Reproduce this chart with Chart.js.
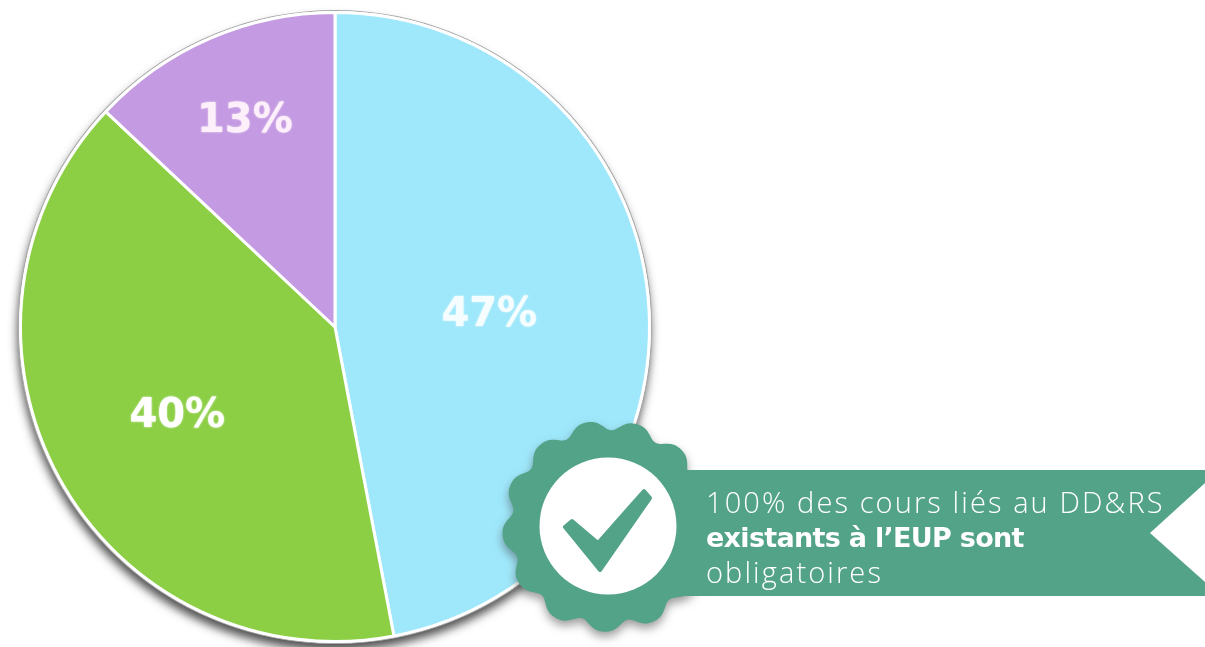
<!DOCTYPE html>
<html lang="fr"><head><meta charset="utf-8">
<style>
html,body{margin:0;padding:0;background:#fff;overflow:hidden}
#wrap{position:relative;width:1205px;height:647px}
canvas{position:absolute;left:0;top:0}
#deco{position:absolute;left:0;top:0}
.t{position:absolute;left:706px;color:#fff;white-space:nowrap;font-size:29px;line-height:35px}
#l1,#l3{font-family:"Open Sans","Noto Sans",sans-serif;font-weight:300;letter-spacing:2.1px}
#l2{font-family:"DejaVu Sans",sans-serif;font-weight:700;font-size:27px;letter-spacing:-0.7px}
</style></head><body>
<div id="wrap">
<canvas id="c" width="1205" height="647"></canvas>
<svg id="deco" width="1205" height="647" viewBox="0 0 1205 647">
 <path id="badge" fill="#53a388" style="filter:drop-shadow(0 5px 5px rgba(60,60,60,.5))"/>
 <polygon fill="#53a388" points="660,470 1205,470 1205,483 1150,533 1205,582 1205,596 660,596"/>
 <circle cx="608" cy="526" r="68.5" fill="#fff"/>
 <polygon points="644,491 650,498 600,570 565,527 572,521 598,543" fill="#53a388" stroke="#53a388" stroke-width="4" stroke-linejoin="round"/>
</svg>
<div class="t" id="l1" style="top:484px"></div>
<div class="t" id="l2" style="top:520px"></div>
<div class="t" id="l3" style="top:554px"></div>
</div>
<script src="https://cdn.jsdelivr.net/npm/chart.js@4"></script>
<script>
const categories = ["Catégorie 1", "Catégorie 2", "Catégorie 3"];
const values = [47, 40, 13];
const sliceColors = ["#9fe8fb", "#8ccf45", "#c49ae2"];
const valueLabels = ["47%", "40%", "13%"];
const labelRadius = [155, 180, 227];
const labelColors = ["#f6fdff", "#ffffff", "#fdf0fb"];
const calloutLines = ["100% des cours liés au DD&RS", "existants à l’EUP sont", "obligatoires"];

document.getElementById("l1").textContent = calloutLines[0];
document.getElementById("l2").textContent = calloutLines[1];
document.getElementById("l3").textContent = calloutLines[2];

// scalloped badge outline (decoration only)
(function(){
  const cx=608, cy=526, lobes=13, R=101.6, a=5, b=0.8, rot=92*Math.PI/180;
  let d="";
  for(let i=0;i<=720;i++){
    const t=i/720*2*Math.PI, x=lobes*(t-rot);
    const r=R+a*Math.cos(x)-b*Math.cos(2*x);
    d+=(i?"L":"M")+(cx+r*Math.cos(t)).toFixed(1)+" "+(cy+r*Math.sin(t)).toFixed(1);
  }
  document.getElementById("badge").setAttribute("d",d+"Z");
})();

const pieBackdrop = {
  id:"pieBackdrop",
  beforeDatasetsDraw(chart){
    const arc=chart.getDatasetMeta(0).data[0], ctx=chart.ctx;
    ctx.save();
    ctx.shadowColor="rgba(50,50,50,.85)";
    ctx.shadowBlur=10; ctx.shadowOffsetX=-1; ctx.shadowOffsetY=7;
    ctx.fillStyle="#fff";
    ctx.strokeStyle="#a9a9a9"; ctx.lineWidth=1.2;
    ctx.beginPath(); ctx.arc(arc.x,arc.y,arc.outerRadius+2,0,2*Math.PI); ctx.fill();
    ctx.shadowColor="transparent"; ctx.stroke();
    ctx.restore();
  }
};
const sliceLabels = {
  id:"sliceLabels",
  afterDatasetsDraw(chart){
    const ctx=chart.ctx;
    chart.getDatasetMeta(0).data.forEach((arc,i)=>{
      const mid=(arc.startAngle+arc.endAngle)/2, r=labelRadius[i];
      ctx.save();
      ctx.font='bold 40px "DejaVu Sans", sans-serif';
      ctx.textAlign="center"; ctx.textBaseline="middle";
      ctx.fillStyle=labelColors[i];
      ctx.shadowColor=labelColors[i]; ctx.shadowBlur=2;
      ctx.fillText(valueLabels[i],arc.x+r*Math.cos(mid),arc.y+r*Math.sin(mid)+3);
      ctx.restore();
    });
  }
};
new Chart(document.getElementById("c"),{
  type:"pie",
  data:{labels:categories,datasets:[{data:values,backgroundColor:sliceColors,borderColor:"#fff",borderWidth:3,borderAlign:"center"}]},
  options:{
    responsive:false,animation:false,devicePixelRatio:1,
    layout:{padding:{left:19,right:554,top:11,bottom:4}},
    plugins:{legend:{display:false},tooltip:{enabled:false}}
  },
  plugins:[pieBackdrop,sliceLabels]
});
</script>
</body></html>
